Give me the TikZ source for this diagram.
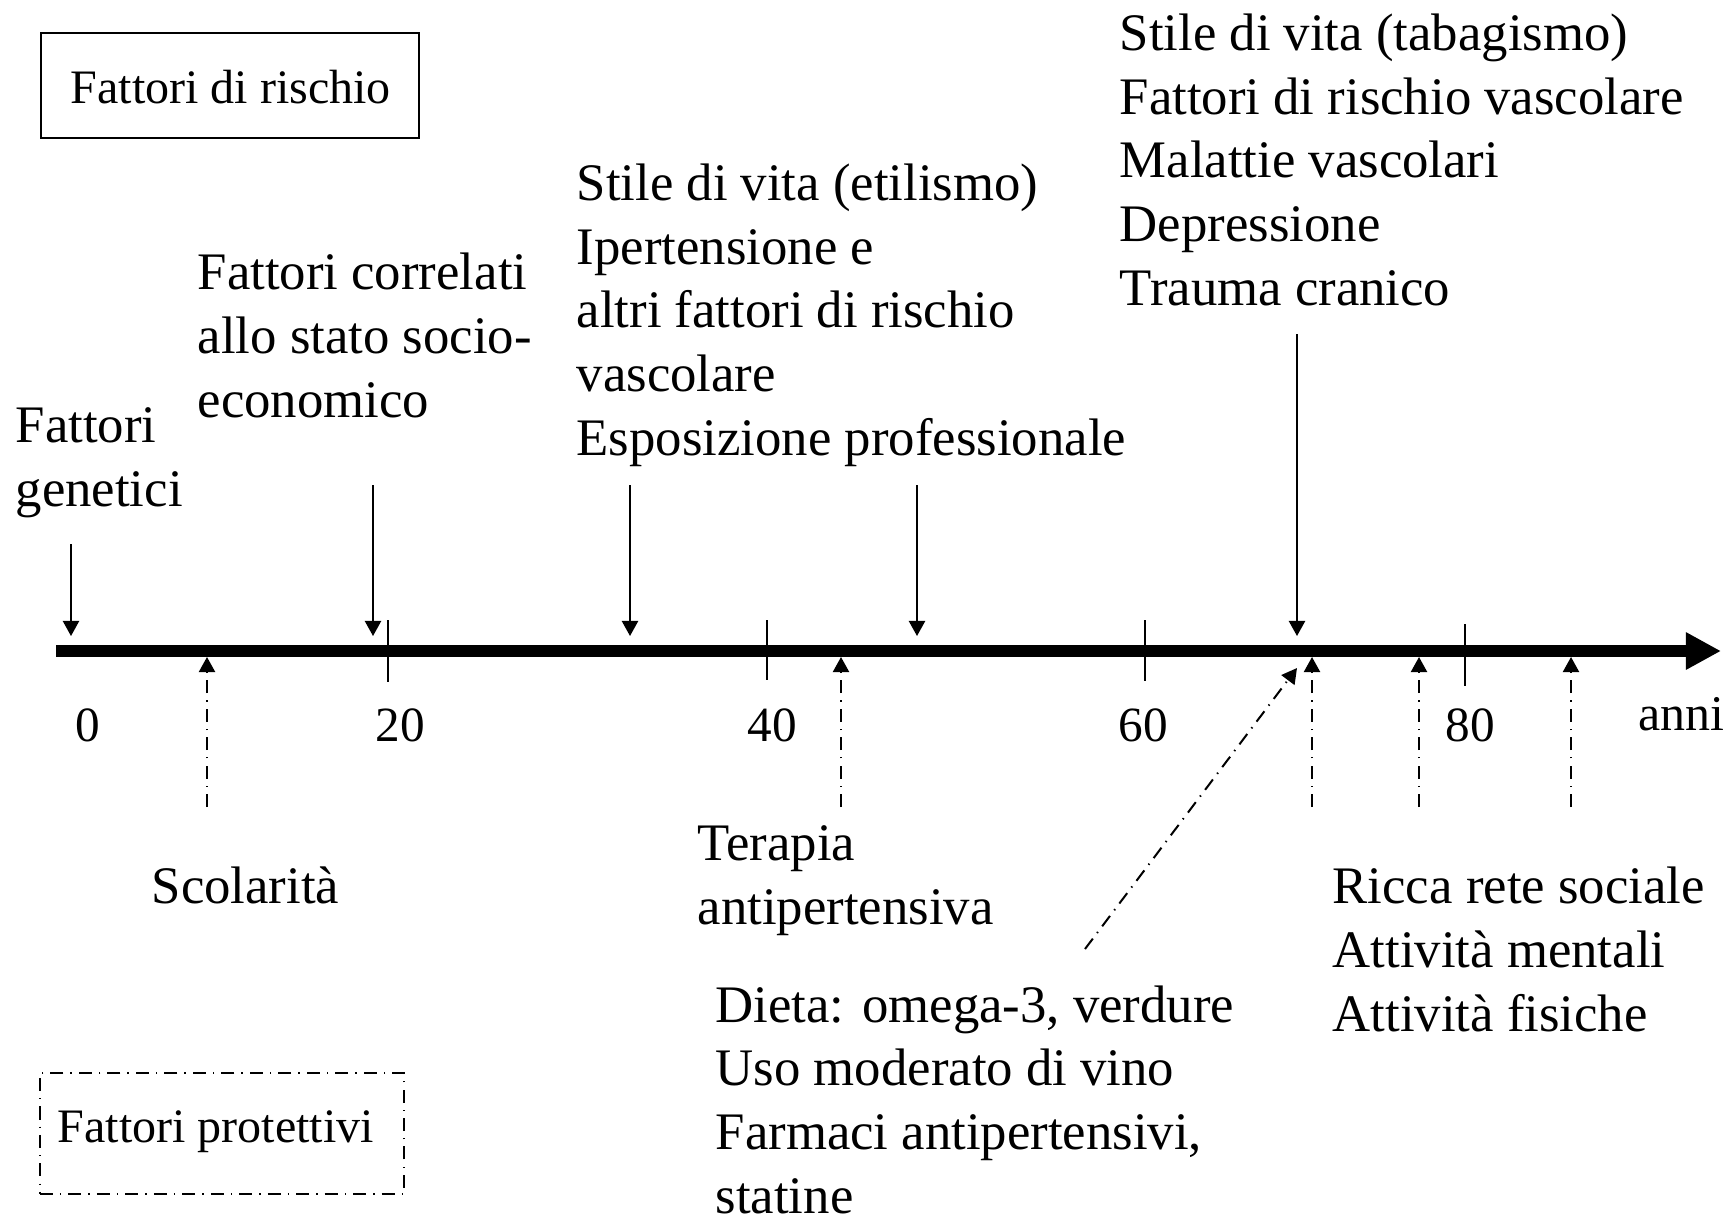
\documentclass[tikz,border=0pt]{standalone}
\usepackage{fontspec}
\setmainfont{Liberation Serif}
\usetikzlibrary{arrows.meta}
\begin{document}
\begin{tikzpicture}[x=0.01cm,y=-0.01cm,
  txt/.style={font=\fontsize{15pt}{18.07pt}\selectfont, anchor=base west, align=left, inner sep=0pt},
  boxtxt/.style={font=\fontsize{13.66pt}{16pt}\selectfont, anchor=base west, inner sep=0pt},
  num/.style={font=\fontsize{14pt}{16pt}\selectfont, anchor=base, inner sep=0pt},
  riskarrow/.style={line width=0.57pt, -{Triangle[length=4.3pt,width=4.6pt]}},
  protarrow/.style={line width=0.57pt, dash pattern=on 3.7pt off 2pt on 0.4pt off 2pt, -{Triangle[length=4.3pt,width=4.6pt]}},
  ticmark/.style={line width=0.57pt},
  riskbox/.style={draw, line width=0.57pt, inner sep=0pt, minimum width=107.55pt, minimum height=29.88pt},
  protbox/.style={draw, line width=0.57pt, dash pattern=on 3.7pt off 2pt on 0.4pt off 2pt, inner sep=0pt, minimum width=103.57pt, minimum height=34.43pt}
]
\useasboundingbox (0,0) rectangle (1727,1217);

% legend boxes
\node[riskbox] (rbox) at (230,85.5) {};
\node[boxtxt] (rtxt) at (70,103) {Fattori di rischio};
\node[protbox] (pbox) at (222,1133.5) {};
\node[boxtxt] (ptxt) at (57,1142) {Fattori protettivi};

% axis
\coordinate (axs) at (56,651);
\coordinate (axe) at (1721,651);
\draw[line width=3.4pt, -{Triangle[length=10pt,width=10pt]}] (axs) -- (axe);

% ticks
\draw[ticmark] (388,620) -- (388,682);
\draw[ticmark] (767,620) -- (767,680);
\draw[ticmark] (1145,620) -- (1145,681);
\draw[ticmark] (1465,624) -- (1465,686);

% numbers
\node[num] (n0) at (88,741) {0};
\node[num] (n20) at (400,741) {20};
\node[num] (n40) at (772,741) {40};
\node[num] (n60) at (1143,741) {60};
\node[num] (n80) at (1470,741) {80};
\node[font=\fontsize{14.2pt}{16pt}\selectfont, anchor=base west, inner sep=0pt] (anni) at (1638,730) {anni};

% risk factor texts (anchor = baseline of last line)
\node[txt] (gen) at (15,506) {Fattori\\genetici};
\node[txt] (soc) at (197,417) {Fattori correlati\\allo stato socio-\\economico};
\node[txt] (eti) at (576,455) {Stile di vita (etilismo)\\Ipertensione e\\altri fattori di rischio\\vascolare\\Esposizione professionale};
\node[txt] (tab) at (1119,305) {Stile di vita (tabagismo)\\Fattori di rischio vascolare\\Malattie vascolari\\Depressione\\Trauma cranico};

% protective texts
\node[txt] (sco) at (151,903) {Scolarità};
\node[txt] (ter) at (697,924) {Terapia\\antipertensiva};
\node[txt] (die) at (715,1213) {Dieta: omega-3, verdure\\Uso moderato di vino\\Farmaci antipertensivi,\\statine};
\node[txt] (ric) at (1332,1031) {Ricca rete sociale\\Attività mentali\\Attività fisiche};

% risk arrows
\coordinate (gA) at (71,544);   \coordinate (gB) at (71,636);
\coordinate (sA) at (373,485);  \coordinate (sB) at (373,636);
\coordinate (eA) at (630,485);  \coordinate (eB) at (630,636);
\coordinate (pA) at (917,485);  \coordinate (pB) at (917,636);
\coordinate (tA) at (1297,334); \coordinate (tB) at (1297,636);
\draw[riskarrow] (gA) -- (gB);
\draw[riskarrow] (sA) -- (sB);
\draw[riskarrow] (eA) -- (eB);
\draw[riskarrow] (pA) -- (pB);
\draw[riskarrow] (tA) -- (tB);

% protective arrows
\coordinate (p1A) at (207,807);  \coordinate (p1B) at (207,657);
\coordinate (p2A) at (841,807);  \coordinate (p2B) at (841,657);
\coordinate (p3A) at (1312,807); \coordinate (p3B) at (1312,657);
\coordinate (p4A) at (1419,807); \coordinate (p4B) at (1419,657);
\coordinate (p5A) at (1571,807); \coordinate (p5B) at (1571,657);
\coordinate (dA) at (1085,949);  \coordinate (dB) at (1297,668);
\draw[protarrow] (p1A) -- (p1B);
\draw[protarrow] (p2A) -- (p2B);
\draw[protarrow] (p3A) -- (p3B);
\draw[protarrow] (p4A) -- (p4B);
\draw[protarrow] (p5A) -- (p5B);
\draw[protarrow] (dA) -- (dB);
\end{tikzpicture}
\end{document}
